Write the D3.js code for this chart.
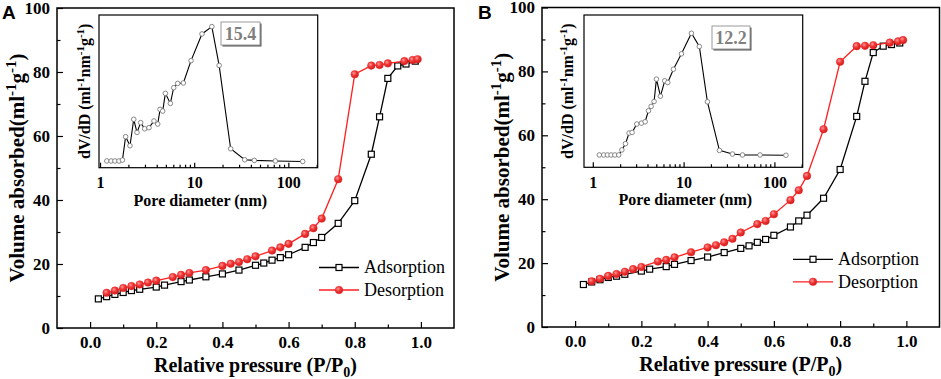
<!DOCTYPE html>
<html>
<head>
<meta charset="utf-8">
<script src="https://cdn.jsdelivr.net/npm/d3@7"></script>
<style>
  body { margin: 0; background: #fff; }
  svg text { font-family: "Liberation Serif", "Times New Roman", serif; }
  svg text.letter { font-family: "Liberation Sans", Arial, sans-serif; }
</style>
</head>
<body>
<div id="chart"></div>
<script>
// ---- data ----
// panel A isotherm [P/P0, volume]
var adsA = [[0.025,9.1],[0.05,9.8],[0.075,10.5],[0.1,11.1],[0.125,11.7],[0.15,12.1],[0.2,12.8],[0.225,13.4],
  [0.275,14.5],[0.3,15.0],[0.35,16.0],[0.4,16.9],[0.45,18.1],[0.5,19.6],[0.525,20.3],[0.55,21.2],[0.575,22.0],
  [0.6,22.9],[0.65,25.2],[0.675,26.7],[0.7,28.3],[0.75,32.7],[0.8,39.8],[0.85,54.3],[0.875,66.0],[0.9,78.0],
  [0.93,81.9],[0.955,82.5],[0.983,83.4]];
var desA = [[0.05,11.0],[0.075,11.7],[0.1,12.5],[0.125,13.1],[0.15,13.6],[0.175,14.2],[0.2,14.8],[0.25,15.9],
  [0.275,16.6],[0.3,17.2],[0.35,18.1],[0.4,19.4],[0.425,20.1],[0.45,20.6],[0.475,21.5],[0.5,22.4],[0.55,24.2],
  [0.575,25.2],[0.6,26.3],[0.65,29.4],[0.675,31.2],[0.7,34.2],[0.75,46.5],[0.8,79.3],[0.85,82.0],[0.875,82.2],
  [0.9,82.7],[0.95,83.4],[0.975,83.75],[0.99,84.0]];
// panel B isotherm
var adsB = [[0.025,13.3],[0.05,14.1],[0.075,14.8],[0.1,15.5],[0.125,15.9],[0.15,16.5],[0.2,17.5],[0.225,18.1],
  [0.275,18.9],[0.3,19.6],[0.35,20.8],[0.4,21.9],[0.45,23.3],[0.5,24.6],[0.525,25.4],[0.55,26.5],[0.575,27.4],
  [0.6,28.7],[0.65,31.3],[0.675,33.2],[0.7,35.0],[0.75,40.3],[0.8,49.3],[0.85,65.9],[0.875,76.9],[0.9,85.9],
  [0.93,87.9],[0.955,88.4],[0.98,88.9]];
var desB = [[0.05,14.3],[0.075,15.1],[0.1,16.0],[0.125,16.6],[0.15,17.3],[0.175,18.1],[0.2,18.8],[0.25,20.5],
  [0.275,21.0],[0.3,21.8],[0.35,23.4],[0.4,24.9],[0.425,25.6],[0.45,26.5],[0.475,27.6],[0.5,29.6],[0.55,32.2],
  [0.575,33.2],[0.6,35.3],[0.65,39.7],[0.675,42.8],[0.7,47.3],[0.75,61.9],[0.8,83.0],[0.85,87.9],[0.875,88.0],
  [0.9,88.2],[0.95,89.0],[0.975,89.4],[0.99,89.8]];

// pore size distributions (diameter nm, dV/dD relative units)
var poreA = [1.18,1.31,1.44,1.59,1.73,1.87,2.08,2.28,2.47,2.70,2.98,3.31,3.74,4.10,4.34,4.63,4.94,5.58,6.06,6.68,
  7.67,9.26,12.1,15.4,18.4,24.4,34.4,43.5,72.7,142];
var dvA = [4.4,4.4,4.4,4.4,5.0,20.3,14.4,31.7,23.1,29.5,25.5,26.2,30.6,28.6,38.2,37.1,48.7,42.1,52.4,55.2,
  55.5,70.1,87.6,92.4,67.0,12.4,5.2,4.8,4.4,4.1];
var poreB = [1.18,1.32,1.45,1.59,1.75,1.93,2.09,2.29,2.51,2.71,3.05,3.43,3.77,4.10,4.39,4.73,5.02,5.56,6.20,6.69,
  7.73,9.47,12.2,14.9,18.3,24.8,34.5,44.5,69.5,134];
var dvB = [8.1,8.1,8.1,8.1,8.1,8.1,11.4,15.5,22.5,22.9,28.4,29.0,29.9,37.1,40.0,43.2,57.9,46.7,56.8,55.7,
  64.4,74.5,88.0,79.3,43.0,11.1,8.7,8.1,8.1,7.9];

var peakLabels = ["15.4", "12.2"];
var xMajor = [0, 0.2, 0.4, 0.6, 0.8, 1.0];
var xMinor = [0.1, 0.3, 0.5, 0.7, 0.9];
var yMajor = [0, 20, 40, 60, 80, 100];
var yMinor = [10, 30, 50, 70, 90];
var poreMajor = [1, 10, 100];
var poreMinor = [2,3,4,5,6,7,8,9,20,30,40,50,60,70,80,90,200];

var SERIF = "'Liberation Serif', 'Times New Roman', serif";

var svg = d3.select("#chart").append("svg")
  .attr("width", 941).attr("height", 379);

// shaded ball for desorption markers
var grad = svg.append("defs").append("radialGradient")
  .attr("id", "ball").attr("cx", "38%").attr("cy", "35%").attr("r", "65%");
grad.append("stop").attr("offset", "0%").attr("stop-color", "#ff9c9c");
grad.append("stop").attr("offset", "45%").attr("stop-color", "#f23c3c");
grad.append("stop").attr("offset", "100%").attr("stop-color", "#d01818");

function styleAxis(sel, size) {
  sel.select(".domain").remove();
  sel.selectAll("line").attr("stroke", "#000").attr("stroke-width", 1.2);
  sel.selectAll("text")
    .attr("font-family", SERIF).attr("font-size", size)
    .attr("font-weight", "bold").attr("fill", "#000");
}

function drawPanel(p) {
  var g = svg.append("g");
  var x = d3.scaleLinear().domain([-0.1, 1.1]).range([p.left, p.right]);
  var y = d3.scaleLinear().domain([0, 100]).range([p.bottom, p.top]);

  // axes (ticks inward)
  g.append("g").attr("transform", "translate(0," + p.bottom + ")")
    .call(d3.axisBottom(x).tickValues(xMinor).tickSize(-3.5).tickFormat(""))
    .call(styleAxis, 17);
  g.append("g").attr("transform", "translate(0," + p.bottom + ")")
    .call(d3.axisBottom(x).tickValues(xMajor).tickSize(-6).tickPadding(8).tickFormat(d3.format(".1f")))
    .call(styleAxis, 17);
  g.append("g").attr("transform", "translate(" + p.left + ",0)")
    .call(d3.axisLeft(y).tickValues(yMinor).tickSize(-3.5).tickFormat(""))
    .call(styleAxis, 17);
  g.append("g").attr("transform", "translate(" + p.left + ",0)")
    .call(d3.axisLeft(y).tickValues(yMajor).tickSize(-6).tickPadding(7).tickFormat(d3.format("d")))
    .call(styleAxis, 17);

  g.append("rect")
    .attr("x", p.left).attr("y", p.top)
    .attr("width", p.right - p.left).attr("height", p.bottom - p.top)
    .attr("fill", "none").attr("stroke", "#000").attr("stroke-width", 1.5);

  // titles
  var xt = g.append("text")
    .attr("x", (p.left + p.right) / 2).attr("y", p.xTitleY)
    .attr("text-anchor", "middle").attr("font-size", 20).attr("font-weight", "bold");
  xt.append("tspan").text("Relative pressure (P/P");
  xt.append("tspan").attr("font-size", 14).attr("dy", 5).text("0");
  xt.append("tspan").attr("dy", -5).text(")");

  var yt = g.append("text")
    .attr("transform", "translate(" + p.yTitleX + "," + (p.top + p.bottom) / 2 + ") rotate(-90)")
    .attr("text-anchor", "middle").attr("font-size", 21).attr("font-weight", "bold");
  yt.append("tspan").text("Volume absorbed(ml");
  yt.append("tspan").attr("font-size", 15).attr("dy", -8).text("-1");
  yt.append("tspan").attr("dy", 8).text("g");
  yt.append("tspan").attr("font-size", 15).attr("dy", -8).text("-1");
  yt.append("tspan").attr("dy", 8).text(")");

  g.append("text").attr("class", "letter")
    .attr("x", p.letterX).attr("y", 18.5)
    .attr("font-size", 19).attr("font-weight", "bold")
    .text(p.letter);

  // isotherms
  var line = d3.line().x(function (d) { return x(d[0]); }).y(function (d) { return y(d[1]); });
  g.append("path").datum(p.ads).attr("d", line)
    .attr("fill", "none").attr("stroke", "#000").attr("stroke-width", 1.3);
  g.append("g").selectAll("rect").data(p.ads).enter().append("rect")
    .attr("x", function (d) { return x(d[0]) - 3; })
    .attr("y", function (d) { return y(d[1]) - 3; })
    .attr("width", 6).attr("height", 6)
    .attr("fill", "#fff").attr("stroke", "#000").attr("stroke-width", 1.2);

  g.append("path").datum(p.des).attr("d", line)
    .attr("fill", "none").attr("stroke", "#ff1f1f").attr("stroke-width", 1.3);
  g.append("g").selectAll("circle").data(p.des).enter().append("circle")
    .attr("cx", function (d) { return x(d[0]); })
    .attr("cy", function (d) { return y(d[1]); })
    .attr("r", 3.8)
    .attr("fill", "url(#ball)").attr("stroke", "#e22").attr("stroke-width", 0.5);

  // legend
  var lg = g.append("g");
  var lx1 = p.legX, lx2 = p.legX + 40, lm = p.legX + 20;
  lg.append("line").attr("x1", lx1).attr("x2", lx2).attr("y1", p.legY).attr("y2", p.legY)
    .attr("stroke", "#000").attr("stroke-width", 1.3);
  lg.append("rect").attr("x", lm - 3).attr("y", p.legY - 3).attr("width", 6).attr("height", 6)
    .attr("fill", "#fff").attr("stroke", "#000").attr("stroke-width", 1.2);
  lg.append("text").attr("x", lx2 + 5).attr("y", p.legY).attr("dy", "0.33em")
    .attr("font-size", 18).text("Adsorption");
  var ly2 = p.legY + 22.5;
  lg.append("line").attr("x1", lx1).attr("x2", lx2).attr("y1", ly2).attr("y2", ly2)
    .attr("stroke", "#ff1f1f").attr("stroke-width", 1.3);
  lg.append("circle").attr("cx", lm).attr("cy", ly2).attr("r", 3.8)
    .attr("fill", "url(#ball)").attr("stroke", "#e22").attr("stroke-width", 0.5);
  lg.append("text").attr("x", lx2 + 5).attr("y", ly2).attr("dy", "0.33em")
    .attr("font-size", 18).text("Desorption");

  // inset: pore size distribution
  var ins = p.inset;
  var ig = g.append("g");
  ig.append("rect").attr("x", ins.left).attr("y", ins.top)
    .attr("width", ins.right - ins.left).attr("height", ins.bottom - ins.top)
    .attr("fill", "#fff");
  var xi = d3.scaleLog().domain([ins.dmin, 205]).range([ins.left, ins.right]);
  var yi = d3.scaleLinear().domain([0, 100]).range([ins.bottom, ins.top]);

  ig.append("g").attr("transform", "translate(0," + ins.bottom + ")")
    .call(d3.axisBottom(xi).tickValues(poreMinor).tickSize(-3).tickFormat(""))
    .call(styleAxis, 16);
  ig.append("g").attr("transform", "translate(0," + ins.bottom + ")")
    .call(d3.axisBottom(xi).tickValues(poreMajor).tickSize(-5).tickPadding(9).tickFormat(d3.format("d")))
    .call(styleAxis, 16);
  ig.append("rect").attr("x", ins.left).attr("y", ins.top)
    .attr("width", ins.right - ins.left).attr("height", ins.bottom - ins.top)
    .attr("fill", "none").attr("stroke", "#000").attr("stroke-width", 1.2);

  var pts = p.pore.map(function (d, i) { return [d, p.dv[i]]; });
  ig.append("path").datum(pts)
    .attr("d", d3.line().x(function (d) { return xi(d[0]); }).y(function (d) { return yi(d[1]); }))
    .attr("fill", "none").attr("stroke", "#000").attr("stroke-width", 1.1);
  ig.append("g").selectAll("circle").data(pts).enter().append("circle")
    .attr("cx", function (d) { return xi(d[0]); })
    .attr("cy", function (d) { return yi(d[1]); })
    .attr("r", 2.3).attr("fill", "#fff").attr("stroke", "#7a7a7a").attr("stroke-width", 0.9);

  ig.append("text")
    .attr("x", (ins.left + ins.right) / 2 - 8).attr("y", ins.bottom + 38)
    .attr("text-anchor", "middle").attr("font-size", 16).attr("font-weight", "bold")
    .text("Pore diameter (nm)");

  var it = ig.append("text")
    .attr("transform", "translate(" + ins.titleX + "," + (ins.top + ins.bottom) / 2 + ") rotate(-90)")
    .attr("text-anchor", "middle").attr("font-size", 16).attr("font-weight", "bold");
  it.append("tspan").text("dV/dD (ml");
  it.append("tspan").attr("font-size", 11).attr("dy", -6).text("-1");
  it.append("tspan").attr("dy", 6).text("nm");
  it.append("tspan").attr("font-size", 11).attr("dy", -6).text("-1");
  it.append("tspan").attr("dy", 6).text("g");
  it.append("tspan").attr("font-size", 11).attr("dy", -6).text("-1");
  it.append("tspan").attr("dy", 6).text(")");

  // peak label box
  var b = p.box;
  ig.append("rect").attr("x", b.x + 1.5).attr("y", b.y + 1.5).attr("width", b.w).attr("height", b.h)
    .attr("fill", "#555");
  ig.append("rect").attr("x", b.x).attr("y", b.y).attr("width", b.w).attr("height", b.h)
    .attr("fill", "#fff").attr("stroke", "#9a9a9a").attr("stroke-width", 1);
  ig.append("text").attr("x", b.x + b.w / 2).attr("y", b.y + b.h / 2).attr("dy", "0.35em")
    .attr("text-anchor", "middle").attr("font-size", 18).attr("font-weight", "bold")
    .attr("fill", "#7f7f7f").text(p.peak);
}

drawPanel({
  letter: "A", letterX: 2, ads: adsA, des: desA, pore: poreA, dv: dvA, peak: peakLabels[0],
  left: 57, right: 454, top: 8, bottom: 328,
  xTitleY: 371.5, yTitleX: 24,
  legX: 319, legY: 267.5,
  inset: { left: 99, right: 317.7, top: 15, bottom: 167.7, dmin: 0.975, titleX: 90 },
  box: { x: 221, y: 22, w: 39, h: 23 }
});
drawPanel({
  letter: "B", letterX: 478, ads: adsB, des: desB, pore: poreB, dv: dvB, peak: peakLabels[1],
  left: 542, right: 939.5, top: 7.5, bottom: 327,
  xTitleY: 370.5, yTitleX: 509,
  legX: 793, legY: 259.3,
  inset: { left: 584, right: 802.7, top: 15, bottom: 167.3, dmin: 0.80, titleX: 573 },
  box: { x: 712, y: 26, w: 38, h: 23 }
});
</script>
</body>
</html>
